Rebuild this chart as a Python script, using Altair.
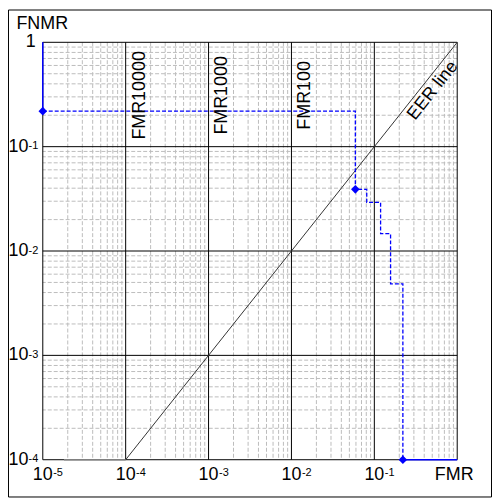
import altair as alt
import pandas as pd

W, H = 417, 420
FONT = "Liberation Sans"

# axis decades
fmr_major = [1e-5, 1e-4, 1e-3, 1e-2, 1e-1, 1.0]
fnmr_major = [1e-4, 1e-3, 1e-2, 1e-1, 1.0]
x_exp = ["-5", "-4", "-3", "-2", "-1"]
y_exp = ["-4", "-3", "-2", "-1"]

# DET curve
top_fmr = [1e-5, 1e-5]
top_fnmr = [1.0, 0.219]
step_fmr = [1e-5, 0.059, 0.059, 0.081, 0.081, 0.119, 0.119, 0.157, 0.157, 0.221, 0.221]
step_fnmr = [0.219, 0.219, 0.039, 0.039, 0.0293, 0.0293, 0.01465, 0.01465, 0.00485, 0.00485, 1e-4]
bot_fmr = [0.221, 1.0]
bot_fnmr = [1e-4, 1e-4]
marker_fmr = [1e-5, 0.059, 0.221]
marker_fnmr = [0.219, 0.039, 1e-4]

# EER line
eer_fmr = [1e-4, 1.0]
eer_fnmr = [1e-4, 1.0]
eer_tail_fmr = [1.8e-5, 1e-4]
eer_tail_fnmr = [1e-4, 1e-4]

# FMR operating point labels
op_labels = ["FMR10000", "FMR1000", "FMR100"]
op_x = [1e-4, 1e-3, 1e-2]
op_y = [0.31, 0.31, 0.31]

# minor grid values
minor_x = [k * d for d in fmr_major[:-1] for k in range(2, 10)]
minor_y = [k * d for d in fnmr_major[:-1] for k in range(2, 10)]

xs = alt.Scale(type="log", domain=[1e-5, 1.0], nice=False)
ys = alt.Scale(type="log", domain=[1e-4, 1.0], nice=False)


def X(f):
    return alt.X(f, type="quantitative", scale=xs, axis=None)


def Y(f):
    return alt.Y(f, type="quantitative", scale=ys, axis=None)


minor_v = alt.Chart(pd.DataFrame({"v": minor_x})).mark_rule(
    color="#bcbcbc", strokeWidth=1, strokeDash=[4, 2]).encode(x=X("v"))
minor_h = alt.Chart(pd.DataFrame({"v": minor_y})).mark_rule(
    color="#bcbcbc", strokeWidth=1, strokeDash=[4, 2]).encode(y=Y("v"))
major_v = alt.Chart(pd.DataFrame({"v": fmr_major})).mark_rule(
    color="#000000", strokeWidth=1).encode(x=X("v"))
major_h = alt.Chart(pd.DataFrame({"v": fnmr_major})).mark_rule(
    color="#000000", strokeWidth=1).encode(y=Y("v"))

eer = alt.Chart(pd.DataFrame({"x": eer_fmr, "y": eer_fnmr})).mark_line(
    color="#333333", strokeWidth=1).encode(x=X("x"), y=Y("y"))
eer_tail = alt.Chart(pd.DataFrame({"x": eer_tail_fmr, "y": eer_tail_fnmr})).mark_line(
    color="#808080", strokeWidth=1.5).encode(x=X("x"), y=Y("y"))


def path(xv, yv, **kw):
    df = pd.DataFrame({"x": xv, "y": yv, "i": list(range(len(xv)))})
    return alt.Chart(df).mark_line(color="#0000ff", **kw).encode(
        x=X("x"), y=Y("y"), order=alt.Order("i:Q"))


top_line = path(top_fmr, top_fnmr, strokeWidth=1.5)
step_line = path(step_fmr, step_fnmr, strokeWidth=1.3, strokeDash=[4, 2])
bot_line = path(bot_fmr, bot_fnmr, strokeWidth=1.5)
markers = alt.Chart(pd.DataFrame({"x": marker_fmr, "y": marker_fnmr})).mark_point(
    shape="diamond", filled=True, color="#0000ff", size=75, opacity=1).encode(
    x=X("x"), y=Y("y"))

op_text = alt.Chart(pd.DataFrame({"x": op_x, "y": op_y, "t": op_labels})).mark_text(
    angle=270, align="center", baseline="alphabetic", dy=19, fontSize=18,
    font=FONT, color="#000000").encode(x=X("x"), y=Y("y"), text="t:N")

eer_text = alt.Chart(pd.DataFrame({"x": [0.4], "y": [0.4], "t": ["EER line"]})).mark_text(
    angle=308.5, align="center", baseline="top", dy=2, fontSize=18,
    font=FONT, color="#000000").encode(x=X("x"), y=Y("y"), text="t:N")

# x tick labels
xdf = pd.DataFrame({"v": fmr_major[:-1], "b": ["10"] * 5, "e": x_exp})
x_base = alt.Chart(xdf).mark_text(
    align="center", baseline="top", dy=6, fontSize=18, font=FONT, color="#000000").encode(
    x=X("v"), y=alt.value(H), text="b:N")
x_sup = alt.Chart(xdf).mark_text(
    align="left", baseline="top", dx=10.5, dy=7, fontSize=11, font=FONT, color="#000000").encode(
    x=X("v"), y=alt.value(H), text="e:N")

# y tick labels
ydf = pd.DataFrame({"v": fnmr_major[:-1], "b": ["10"] * 4, "e": y_exp})
y_base = alt.Chart(ydf).mark_text(
    align="right", baseline="middle", fontSize=18, font=FONT, color="#000000").encode(
    y=Y("v"), x=alt.value(-14.5), text="b:N")
y_sup = alt.Chart(ydf).mark_text(
    align="right", baseline="top", dy=-6.5, fontSize=11, font=FONT, color="#000000").encode(
    y=Y("v"), x=alt.value(-4.5), text="e:N")
y_one = alt.Chart(pd.DataFrame({"v": [1.0], "t": ["1"]})).mark_text(
    align="right", baseline="middle", fontSize=18, font=FONT, color="#000000").encode(
    y=Y("v"), x=alt.value(-7), text="t:N")

x_title = alt.Chart(pd.DataFrame({"t": ["FMR"]})).mark_text(
    align="center", baseline="top", dy=6, dx=-3, fontSize=18, font=FONT, color="#000000").encode(
    x=alt.value(W), y=alt.value(H), text="t:N")
y_title = alt.Chart(pd.DataFrame({"t": ["FNMR"]})).mark_text(
    align="left", baseline="alphabetic", fontSize=18, font=FONT, color="#000000").encode(
    x=alt.value(-26.5), y=alt.value(-13), text="t:N")

frame = alt.Chart(pd.DataFrame({"a": [0]})).mark_rect(
    fill="transparent", stroke="#000000", strokeWidth=1).encode(
    x=alt.value(-34.5), x2=alt.value(W + 35 - 0.5),
    y=alt.value(-32.5), y2=alt.value(H + 38 - 0.5))

chart = alt.layer(
    minor_v, minor_h, major_v, major_h, eer, eer_tail,
    top_line, step_line, bot_line, markers,
    op_text, eer_text, x_base, x_sup, y_base, y_sup, y_one,
    x_title, y_title, frame,
).properties(
    width=W, height=H,
    padding={"left": 35, "top": 33, "right": 35, "bottom": 38},
    autosize=alt.AutoSizeParams(type="none"),
    background="#ffffff",
).configure_view(stroke=None)

chart.save("out.html", embed_options={"renderer": "svg", "actions": False})
